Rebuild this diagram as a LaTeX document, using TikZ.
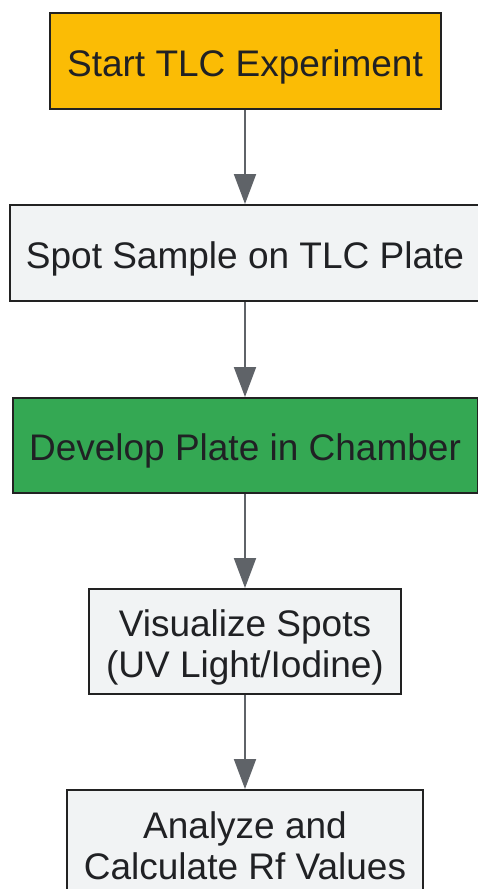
\documentclass[tikz,border=0pt]{standalone}
\usepackage{fontspec}
\setmainfont{Liberation Sans}
\usetikzlibrary{arrows.meta}
\definecolor{startc}{HTML}{FBBC05}
\definecolor{devc}{HTML}{34A853}
\definecolor{boxc}{HTML}{F1F3F4}
\definecolor{edgec}{HTML}{222222}
\definecolor{txtc}{HTML}{202124}
\definecolor{arrc}{HTML}{5F6368}
\tikzset{
  stepbox/.style={draw=edgec, line width=2pt, fill=boxc, rectangle, inner sep=0pt,
    text=txtc, font=\fontsize{37}{41.5}\selectfont, text height=30pt, text depth=0pt},
  twoline/.style={text height=0pt, text depth=#1},
  flowarrow/.style={draw=arrc, line width=2pt, -{Triangle[length=30pt,width=22pt]}}
}
\newcommand{\twolines}[2]{\begin{tabular}[t]{@{}c@{}}#1\\#2\end{tabular}}
\begin{document}
\begin{tikzpicture}[x=1pt,y=-1pt]
\useasboundingbox (0,0) rectangle (478,889);
\clip (0,0) rectangle (478,889);
\fill[white] (0,0) rectangle (478,889);
\node[stepbox, fill=startc, minimum width=391pt, minimum height=96pt] (n1) at (245,61) {Start TLC Experiment};
\node[stepbox, minimum width=471pt, minimum height=96pt] (n2) at (245,253) {Spot Sample on TLC Plate};
\node[stepbox, fill=devc, minimum width=465pt, minimum height=95pt] (n3) at (245,445.5) {Develop Plate in Chamber};
\node[stepbox, twoline=11pt, minimum width=312pt, minimum height=105pt] (n4) at (245,641.5) {\twolines{Visualize Spots}{(UV Light/Iodine)}};
\node[stepbox, twoline=9pt, minimum width=356pt, minimum height=105pt] (n5) at (245,842.5) {\twolines{Analyze and}{Calculate Rf Values}};
\draw[flowarrow] (n1.south) -- (n2.north);
\draw[flowarrow] (n2.south) -- (n3.north);
\draw[flowarrow] (n3.south) -- (n4.north);
\draw[flowarrow] (n4.south) -- (n5.north);
\end{tikzpicture}
\end{document}
